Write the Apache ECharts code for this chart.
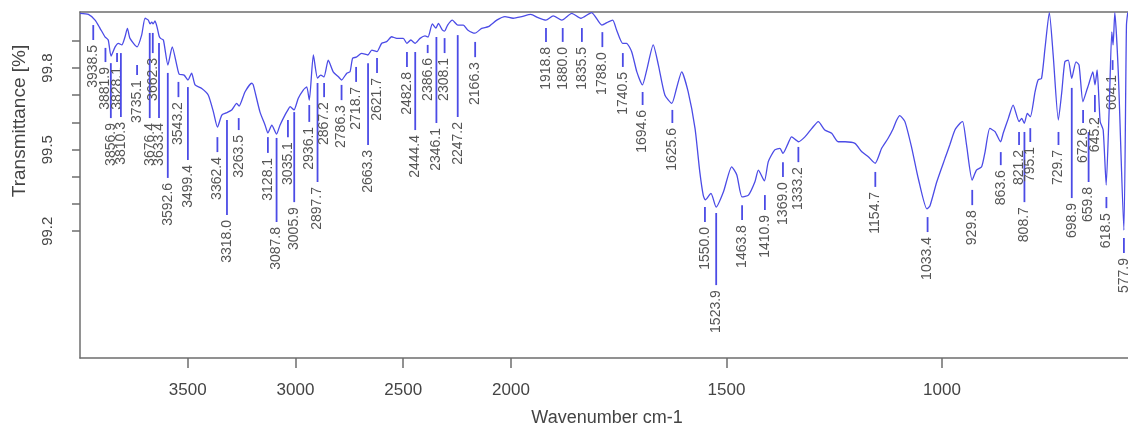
<!DOCTYPE html>
<html>
<head>
<meta charset="utf-8">
<script src="https://cdn.jsdelivr.net/npm/echarts@6/dist/echarts.min.js"></script>
<style>
  html, body { margin: 0; padding: 0; background: #fff; }
  #chart { width: 1128px; height: 430px; }
</style>
</head>
<body>
<div id="chart"></div>
<script>
// spectrum, wavenumber (cm-1) and transmittance (%)
const specWave = [4000, 3961, 3930, 3907, 3884, 3869, 3856, 3837, 3822, 3806, 3791, 3780, 3768, 3735, 3714, 3698, 3683, 3675, 3667, 3661, 3652, 3641, 3633, 3626, 3613, 3592, 3572, 3551, 3540, 3517, 3499, 3482, 3466, 3435, 3405, 3381, 3362, 3342, 3322, 3296, 3273, 3262, 3234, 3203, 3196, 3165, 3141, 3128, 3110, 3088, 3072, 3049, 3035, 3025, 3007, 2987, 2964, 2948, 2936, 2917, 2898, 2883, 2868, 2848, 2825, 2801, 2786, 2762, 2747, 2735, 2718, 2693, 2664, 2646, 2622, 2600, 2577, 2554, 2530, 2500, 2483, 2465, 2445, 2422, 2399, 2385, 2365, 2348, 2337, 2319, 2308, 2294, 2272, 2247, 2221, 2201, 2167, 2136, 2105, 2066, 2028, 1995, 1975, 1954, 1937, 1919, 1902, 1882, 1859, 1838, 1813, 1789, 1774, 1764, 1755, 1741, 1732, 1720, 1708, 1695, 1685, 1670, 1658, 1643, 1627, 1616, 1604, 1589, 1573, 1562, 1554, 1549, 1536, 1524, 1507, 1488, 1476, 1464, 1449, 1434, 1426, 1412, 1403, 1388, 1376, 1369, 1357, 1349, 1333, 1318, 1302, 1287, 1272, 1256, 1241, 1225, 1202, 1186, 1171, 1155, 1140, 1125, 1113, 1105, 1098, 1086, 1070, 1055, 1035, 1028, 1012, 993, 982, 970, 958, 952, 943, 930, 920, 908, 900, 889, 877, 864, 858, 846, 835, 821, 815, 809, 802, 795, 784, 777, 769, 761, 751, 742, 730, 722, 715, 707, 699, 689, 682, 673, 664, 660, 650, 645, 640, 633, 626, 619, 612, 606, 603, 599, 591, 578, 572, 569];
const specT = [100.001, 99.997, 99.976, 99.946, 99.915, 99.903, 99.844, 99.878, 99.891, 99.885, 99.915, 99.946, 99.909, 99.878, 99.921, 99.983, 99.976, 99.962, 99.969, 99.962, 99.973, 99.946, 99.918, 99.909, 99.903, 99.811, 99.878, 99.811, 99.778, 99.774, 99.756, 99.781, 99.738, 99.725, 99.701, 99.639, 99.583, 99.627, 99.635, 99.646, 99.670, 99.660, 99.713, 99.744, 99.738, 99.639, 99.590, 99.561, 99.590, 99.557, 99.590, 99.627, 99.646, 99.658, 99.646, 99.689, 99.719, 99.731, 99.682, 99.848, 99.763, 99.774, 99.767, 99.829, 99.786, 99.768, 99.756, 99.781, 99.786, 99.836, 99.840, 99.854, 99.848, 99.866, 99.860, 99.891, 99.897, 99.915, 99.909, 99.909, 99.891, 99.903, 99.891, 99.909, 99.918, 99.914, 99.962, 99.947, 99.964, 99.940, 99.936, 99.958, 99.976, 99.958, 99.958, 99.940, 99.928, 99.946, 99.952, 99.976, 99.989, 99.983, 99.989, 99.997, 99.985, 99.976, 99.992, 99.976, 100.001, 99.983, 100.004, 99.958, 99.970, 99.976, 99.940, 99.891, 99.891, 99.860, 99.786, 99.738, 99.793, 99.885, 99.811, 99.701, 99.670, 99.725, 99.786, 99.713, 99.578, 99.419, 99.333, 99.315, 99.339, 99.289, 99.345, 99.437, 99.407, 99.326, 99.333, 99.382, 99.425, 99.385, 99.456, 99.499, 99.505, 99.486, 99.523, 99.547, 99.529, 99.547, 99.578, 99.603, 99.572, 99.560, 99.529, 99.529, 99.523, 99.492, 99.474, 99.450, 99.505, 99.542, 99.578, 99.609, 99.625, 99.603, 99.505, 99.394, 99.282, 99.293, 99.382, 99.468, 99.517, 99.572, 99.597, 99.603, 99.517, 99.388, 99.425, 99.437, 99.492, 99.578, 99.566, 99.529, 99.560, 99.615, 99.664, 99.603, 99.615, 99.597, 99.633, 99.621, 99.713, 99.756, 99.762, 99.872, 100.004, 99.848, 99.609, 99.713, 99.823, 99.829, 99.762, 99.823, 99.811, 99.676, 99.719, 99.738, 99.786, 99.738, 99.793, 99.603, 99.572, 99.370, 99.652, 99.933, 99.885, 100.004, 99.786, 99.204, 99.958, 100.004];

// picked peaks: wavenumber, marker start and end (transmittance)
const peakWave = [3938.5, 3881.9, 3856.9, 3828.1, 3810.3, 3735.1, 3676.4, 3662.3, 3633.4, 3592.6, 3543.2, 3499.4, 3362.4, 3318.0, 3263.5, 3128.1, 3087.8, 3035.1, 3005.9, 2936.1, 2897.7, 2867.2, 2786.3, 2718.7, 2663.3, 2621.7, 2482.8, 2444.4, 2386.6, 2346.1, 2308.1, 2247.2, 2166.3, 1918.8, 1880.0, 1835.5, 1788.0, 1740.5, 1694.6, 1625.6, 1550.0, 1523.9, 1463.8, 1410.9, 1369.0, 1333.2, 1154.7, 1033.4, 929.8, 863.6, 821.2, 808.7, 795.1, 729.7, 698.9, 672.6, 659.8, 645.2, 618.5, 604.1, 577.9];
const peakTopT = [99.958, 99.874, 99.818, 99.855, 99.855, 99.811, 99.929, 99.929, 99.892, 99.782, 99.749, 99.730, 99.546, 99.609, 99.616, 99.546, 99.543, 99.609, 99.638, 99.664, 99.745, 99.745, 99.738, 99.804, 99.818, 99.837, 99.859, 99.859, 99.885, 99.914, 99.910, 99.921, 99.896, 99.947, 99.947, 99.947, 99.932, 99.855, 99.712, 99.646, 99.289, 99.267, 99.296, 99.333, 99.454, 99.510, 99.418, 99.252, 99.352, 99.491, 99.565, 99.565, 99.579, 99.565, 99.727, 99.646, 99.565, 99.701, 99.326, 99.829, 99.175];
const peakEndT = [99.903, 99.822, 99.616, 99.822, 99.620, 99.774, 99.616, 99.855, 99.616, 99.396, 99.693, 99.462, 99.491, 99.260, 99.572, 99.488, 99.234, 99.546, 99.307, 99.602, 99.381, 99.693, 99.682, 99.749, 99.517, 99.782, 99.804, 99.572, 99.855, 99.598, 99.855, 99.620, 99.840, 99.896, 99.896, 99.896, 99.877, 99.804, 99.664, 99.598, 99.234, 99.002, 99.241, 99.278, 99.399, 99.454, 99.363, 99.197, 99.296, 99.443, 99.517, 99.307, 99.528, 99.517, 99.322, 99.598, 99.381, 99.638, 99.285, 99.793, 99.120];

const xTickWave = [3500, 3000, 2500, 2000, 1500, 1000];
const yTicks = [99.2, 99.3, 99.4, 99.5, 99.6, 99.7, 99.8, 99.9];
const yLabels = [99.2, 99.5, 99.8];

// above 2000 cm-1 the axis is compressed by half
function toAxis(w) {
  return w > 2000 ? 2000 + (w - 2000) / 2 : w
}
function fromAxis(t) {
  return t > 2000 ? 2000 + (t - 2000) * 2 : t
}

const blue = '#4b4be6'
const axisGrey = '#6e6e6e'
const xMin = 568.4
const xMax = 3000

const chart = echarts.init(document.getElementById('chart'))

chart.setOption({
  animation: false,
  grid: {
    left: 80,
    top: 12,
    right: 0,
    height: 346
  },
  xAxis: [
    {
      type: 'value',
      inverse: true,
      min: xMin,
      max: xMax,
      splitLine: { show: false },
      axisLine: { show: true, onZero: false, lineStyle: { color: axisGrey, width: 1.5 } },
      axisTick: {
        show: true,
        length: 10,
        customValues: xTickWave.map(toAxis),
        lineStyle: { color: axisGrey, width: 1.5 }
      },
      axisLabel: {
        customValues: xTickWave.map(toAxis),
        formatter: v => String(Math.round(fromAxis(v))),
        fontFamily: 'Liberation Sans',
        fontSize: 17,
        color: '#444',
        margin: 24
      }
    },
    {
      // top frame line only
      type: 'value',
      position: 'top',
      inverse: true,
      min: xMin,
      max: xMax,
      splitLine: { show: false },
      axisLine: { show: true, onZero: false, lineStyle: { color: axisGrey, width: 1.5 } },
      axisTick: { show: false },
      axisLabel: { show: false }
    }
  ],
  yAxis: {
    type: 'value',
    min: 98.734,
    max: 100.006,
    splitLine: { show: false },
    axisLine: { show: true, lineStyle: { color: axisGrey, width: 1.5 } },
    axisTick: {
      show: true,
      length: 8,
      customValues: yTicks,
      lineStyle: { color: axisGrey, width: 1.5 }
    },
    axisLabel: {
      customValues: yLabels,
      formatter: v => v.toFixed(1),
      rotate: 90,
      fontFamily: 'Liberation Sans',
      fontSize: 15,
      color: '#444',
      margin: 25
    }
  },
  graphic: [
    {
      type: 'text',
      x: 20,
      y: 121,
      rotation: Math.PI / 2,
      style: {
        text: 'Transmittance [%]',
        font: '19px Liberation Sans',
        fill: '#444',
        textAlign: 'center',
        textVerticalAlign: 'middle'
      }
    },
    {
      type: 'text',
      x: 607,
      y: 418,
      style: {
        text: 'Wavenumber cm-1',
        font: '18px Liberation Sans',
        fill: '#444',
        textAlign: 'center',
        textVerticalAlign: 'middle'
      }
    }
  ],
  series: [
    {
      type: 'line',
      data: specWave.map((w, i) => [toAxis(w), specT[i]]),
      showSymbol: false,
      smooth: 0.2,
      lineStyle: { color: blue, width: 1.3 },
      z: 3
    },
    {
      type: 'custom',
      data: peakWave.map((w, i) => [toAxis(w), peakTopT[i], peakEndT[i]]),
      encode: { x: 0, y: [1, 2] },
      clip: false,
      renderItem(params, api) {
        const top = api.coord([api.value(0), api.value(1)])
        const end = api.coord([api.value(0), api.value(2)])
        return {
          type: 'group',
          children: [
            {
              type: 'line',
              shape: { x1: top[0], y1: top[1], x2: end[0], y2: end[1] },
              style: { stroke: blue, lineWidth: 1.8 }
            },
            {
              type: 'text',
              x: end[0],
              y: end[1] + 5,
              rotation: Math.PI / 2,
              style: {
                text: peakWave[params.dataIndex].toFixed(1),
                font: '14px Liberation Sans',
                fill: '#555',
                textAlign: 'right',
                textVerticalAlign: 'middle'
              }
            }
          ]
        }
      },
      z: 2
    }
  ]
})
</script>
</body>
</html>
